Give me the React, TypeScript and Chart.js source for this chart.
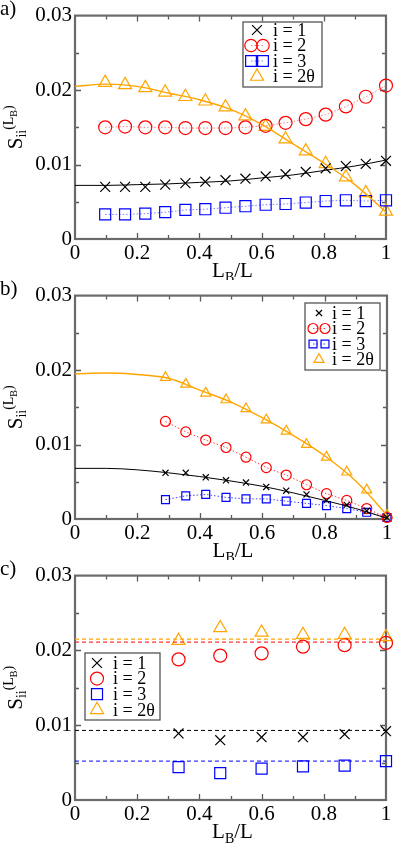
import React, { useEffect, useRef } from 'react';
import { Chart, registerables } from 'chart.js';
import { drawPoint } from 'chart.js/helpers';

Chart.register(...registerables);

const FONT = '"Liberation Serif", "Times New Roman", serif';
const ORANGE = '#ffa500';
const RED = '#ff0000';
const BLUE = '#0000ff';
const BLACK = '#000000';

// ---- axis ticks ----
const xMajorTicks = [0, 0.2, 0.4, 0.6, 0.8, 1];
const xTickLabels = ['0', '0.2', '0.4', '0.6', '0.8', '1'];
const xMinorTicks = [0.1, 0.3, 0.5, 0.7, 0.9];
const yMajorTicks = [0, 0.01, 0.02, 0.03];
const yTickLabels = ['0', '0.01', '0.02', '0.03'];
const yMinorTicks = [0.005, 0.015, 0.025];

const legendLabels = ['i = 1', 'i = 2', 'i = 3', 'i = 2θ'];
const panelLetters = ['a)', 'b)', 'c)'];

// ---- panel a ----
const xA = [0.097, 0.161, 0.226, 0.29, 0.355, 0.419, 0.484, 0.548, 0.613, 0.677, 0.742, 0.806, 0.871, 0.935, 1.0];
const a1 = [0.007, 0.007, 0.007, 0.0073, 0.0075, 0.0077, 0.0079, 0.0081, 0.0084, 0.0087, 0.009, 0.0095, 0.0098, 0.0101, 0.0105];
const a2 = [0.015, 0.0151, 0.015, 0.015, 0.0149, 0.0149, 0.0149, 0.015, 0.0152, 0.0156, 0.0161, 0.0167, 0.0178, 0.0191, 0.0206];
const a3 = [0.0033, 0.0033, 0.0034, 0.0036, 0.0039, 0.004, 0.0042, 0.0044, 0.0046, 0.0047, 0.0049, 0.0051, 0.0052, 0.0051, 0.0052];
const a2t = [0.021, 0.0207, 0.0203, 0.0197, 0.0191, 0.0185, 0.0177, 0.0165, 0.0151, 0.0134, 0.0118, 0.0101, 0.0083, 0.0062, 0.0037];
const fitX = [0, 0.1, 0.2, 0.3, 0.4, 0.5, 0.6, 0.7, 0.8, 0.9, 1.0];
const aFit1 = [0.0072, 0.0072, 0.0073, 0.0074, 0.0076, 0.0078, 0.0082, 0.0086, 0.0092, 0.0098, 0.0106];
const aFit2t = [0.0205, 0.0208, 0.0205, 0.0196, 0.0187, 0.0174, 0.0154, 0.0128, 0.0102, 0.0073, 0.0036];

// ---- panel b ----
const xB = [0.29, 0.355, 0.419, 0.484, 0.548, 0.613, 0.677, 0.742, 0.806, 0.871, 0.935, 1.0];
const b1 = [0.0062, 0.0062, 0.0056, 0.0052, 0.0049, 0.0043, 0.0038, 0.0033, 0.0025, 0.0019, 0.0011, 0.0002];
const b2 = [0.0131, 0.0117, 0.0106, 0.0096, 0.0083, 0.0069, 0.0059, 0.0046, 0.0034, 0.0025, 0.0014, 0.0002];
const b3 = [0.0026, 0.0031, 0.0033, 0.0029, 0.0027, 0.0027, 0.0024, 0.0021, 0.0018, 0.0014, 0.0009, 0.0002];
const b2t = [0.019, 0.0181, 0.0169, 0.016, 0.0148, 0.0133, 0.0118, 0.01, 0.0083, 0.0063, 0.0039, 0.0005];
const bFit1 = [0.0068, 0.0068, 0.0066, 0.0062, 0.0057, 0.0051, 0.0044, 0.0035, 0.0025, 0.0014, 0.0001];
const bFit2t = [0.0195, 0.0196, 0.0194, 0.0189, 0.0173, 0.0157, 0.0136, 0.0112, 0.0085, 0.0051, 0.0005];

// ---- panel c ----
const xC = [0.333, 0.467, 0.6, 0.733, 0.867, 1.0];
const c1 = [0.0089, 0.008, 0.0084, 0.0084, 0.0088, 0.0092];
const c2 = [0.0188, 0.0193, 0.0196, 0.0205, 0.0207, 0.021];
const c3 = [0.0044, 0.0036, 0.0042, 0.0045, 0.0046, 0.0052];
const c2t = [0.0213, 0.023, 0.0224, 0.0221, 0.0221, 0.0218];
const hLineX = [0, 1];
const cMean1 = 0.0093;
const cMean2 = 0.0211;
const cMean3 = 0.0052;
const cMean2t = 0.0215;

const pts = (xs: number[], ys: number[]) => xs.map((x, i) => ({ x, y: ys[i] }));
const hpts = (y: number) => hLineX.map((x) => ({ x, y }));

type Sym = { style: string; color: string; r: number; twin?: boolean; line?: string };

function markerSet(
  data: number[],
  xs: number[],
  sym: Sym,
  showLine: boolean,
) {
  return {
    data: pts(xs, data),
    showLine,
    borderColor: sym.line || sym.color,
    borderWidth: 1,
    borderDash: [1.5, 2],
    pointStyle: sym.style,
    pointRadius: sym.r,
    pointBorderColor: sym.color,
    pointBackgroundColor: 'rgba(0,0,0,0)',
    pointBorderWidth: 1.2,
    clip: false as any,
  };
}

function curveSet(data: { x: number; y: number }[], color: string, width: number, dash: number[] = []) {
  return {
    data,
    showLine: true,
    borderColor: color,
    borderWidth: width,
    borderDash: dash,
    pointRadius: 0,
    cubicInterpolationMode: 'monotone' as const,
    clip: false as any,
  };
}

function drawSym(ctx: CanvasRenderingContext2D, sym: Sym, x: number, y: number) {
  ctx.save();
  ctx.strokeStyle = sym.color;
  ctx.fillStyle = 'rgba(0,0,0,0)';
  ctx.lineWidth = 1.2;
  drawPoint(ctx, { pointStyle: sym.style as any, radius: sym.r, rotation: 0, borderWidth: 1.2 } as any, x, y);
  ctx.restore();
}

const framePlugin = {
  id: 'frame',
  beforeDatasetsDraw(chart: any) {
    const { ctx, chartArea: ca, scales } = chart;
    const xs = scales.x;
    const ys = scales.y;
    ctx.save();
    ctx.strokeStyle = '#5a5a5a';
    ctx.lineWidth = 1.3;
    ctx.beginPath();
    const xt = (vals: number[], len: number) => {
      vals.forEach((v) => {
        if (v <= 0 || v >= 1) return;
        const px = Math.round(xs.getPixelForValue(v)) + 0.5;
        ctx.moveTo(px, ca.bottom);
        ctx.lineTo(px, ca.bottom - len);
        ctx.moveTo(px, ca.top);
        ctx.lineTo(px, ca.top + len);
      });
    };
    const yt = (vals: number[], len: number) => {
      vals.forEach((v) => {
        if (v <= 0 || v >= 0.03) return;
        const py = Math.round(ys.getPixelForValue(v)) + 0.5;
        ctx.moveTo(ca.left, py);
        ctx.lineTo(ca.left + len, py);
        ctx.moveTo(ca.right, py);
        ctx.lineTo(ca.right - len, py);
      });
    };
    xt(xMajorTicks, 6);
    xt(xMinorTicks, 4);
    yt(yMajorTicks, 6);
    yt(yMinorTicks, 4);
    ctx.stroke();
    ctx.lineWidth = 2.2;
    ctx.strokeStyle = '#6a6a6a';
    ctx.strokeRect(ca.left, ca.top, ca.right - ca.left, ca.bottom - ca.top);
    ctx.restore();
  },
  afterDraw(chart: any, _args: any, opts: any) {
    const { ctx, chartArea: ca } = chart;
    ctx.save();
    // panel letter
    ctx.fillStyle = '#000';
    ctx.font = `21px ${FONT}`;
    ctx.textBaseline = 'alphabetic';
    ctx.textAlign = 'left';
    ctx.fillText(opts.letter, 0, 15);

    // x-axis title L_B/L
    const cx = (ca.left + ca.right) / 2;
    const base = opts.xTitleY;
    ctx.font = `21px ${FONT}`;
    const wL = ctx.measureText('L').width;
    const wSl = ctx.measureText('/L').width;
    ctx.font = `14px ${FONT}`;
    const wB = ctx.measureText('B').width;
    let x0 = cx - (wL + wB + wSl) / 2 + 2;
    ctx.font = `21px ${FONT}`;
    ctx.fillText('L', x0, base);
    x0 += wL;
    ctx.font = `14px ${FONT}`;
    ctx.fillText('B', x0, base + 5);
    x0 += wB;
    ctx.font = `21px ${FONT}`;
    ctx.fillText('/L', x0, base);

    // y-axis title S_ii^(L_B)
    const cy = (ca.top + ca.bottom) / 2;
    ctx.save();
    ctx.translate(22, cy);
    ctx.rotate(-Math.PI / 2);
    ctx.font = `21px ${FONT}`;
    const wS = ctx.measureText('S').width;
    ctx.font = `14px ${FONT}`;
    const wii = ctx.measureText('ii').width;
    const wPL = ctx.measureText('(L').width;
    const wPR = ctx.measureText(')').width;
    ctx.font = `10px ${FONT}`;
    const wB2 = ctx.measureText('B').width;
    const total = wS + wii + wPL + wB2 + wPR;
    let t = -total / 2;
    ctx.font = `21px ${FONT}`;
    ctx.fillText('S', t, 0);
    t += wS;
    ctx.font = `14px ${FONT}`;
    ctx.fillText('ii', t, 4);
    t += wii;
    ctx.fillText('(L', t, -9);
    t += wPL;
    ctx.font = `10px ${FONT}`;
    ctx.fillText('B', t, -5);
    t += wB2;
    ctx.font = `14px ${FONT}`;
    ctx.fillText(')', t, -9);
    ctx.restore();

    // legend
    const lg = opts.legend;
    ctx.fillStyle = '#fff';
    ctx.fillRect(lg.x, lg.y, lg.w, lg.h);
    ctx.strokeStyle = '#555';
    ctx.lineWidth = 1.3;
    ctx.strokeRect(lg.x, lg.y, lg.w, lg.h);
    lg.items.forEach((sym: Sym, i: number) => {
      const ry = lg.rowY + i * lg.rowH;
      if (sym.twin) {
        const xa = lg.mx - lg.dx;
        const xb = lg.mx + lg.dx;
        ctx.save();
        ctx.strokeStyle = sym.line || sym.color;
        ctx.lineWidth = 1;
        ctx.setLineDash([1.5, 2]);
        ctx.beginPath();
        ctx.moveTo(xa, ry);
        ctx.lineTo(xb, ry);
        ctx.stroke();
        ctx.restore();
        drawSym(ctx, sym, xa, ry);
        drawSym(ctx, sym, xb, ry);
      } else {
        drawSym(ctx, sym, lg.mx, ry);
      }
      ctx.fillStyle = '#000';
      ctx.font = `18px ${FONT}`;
      ctx.textBaseline = 'middle';
      ctx.textAlign = 'left';
      ctx.fillText(legendLabels[i], lg.tx, ry + 1);
    });
    ctx.restore();
  },
};

function makeConfig(datasets: any[], frameOpts: any, xAxisH: number) {
  return {
    type: 'scatter',
    data: { datasets },
    plugins: [framePlugin],
    options: {
      animation: false,
      responsive: false,
      events: [],
      layout: { padding: { top: 15, right: 8, left: 0, bottom: 0 } },
      plugins: {
        legend: { display: false },
        tooltip: { enabled: false },
        frame: frameOpts,
      },
      scales: {
        x: {
          type: 'linear',
          min: 0,
          max: 1,
          border: { display: false },
          grid: { display: false, drawTicks: false },
          afterBuildTicks: (s: any) => {
            s.ticks = xMajorTicks.map((v) => ({ value: v }));
          },
          afterFit: (s: any) => {
            s.height = xAxisH;
          },
          ticks: {
            padding: 2,
            color: '#000',
            font: { family: FONT, size: 21 },
            maxRotation: 0,
            autoSkip: false,
            callback: (v: number) => {
              const i = xMajorTicks.findIndex((t) => Math.abs(t - v) < 1e-9);
              return i >= 0 ? xTickLabels[i] : '';
            },
          },
        },
        y: {
          type: 'linear',
          min: 0,
          max: 0.03,
          border: { display: false },
          grid: { display: false, drawTicks: false },
          afterBuildTicks: (s: any) => {
            s.ticks = yMajorTicks.map((v) => ({ value: v }));
          },
          afterFit: (s: any) => {
            s.width = 75;
          },
          ticks: {
            padding: 3,
            color: '#000',
            font: { family: FONT, size: 21 },
            autoSkip: false,
            callback: (v: number) => {
              const i = yMajorTicks.findIndex((t) => Math.abs(t - v) < 1e-9);
              return i >= 0 ? yTickLabels[i] : '';
            },
          },
        },
      },
    },
  };
}

// symbol sets
const symA: Sym[] = [
  { style: 'crossRot', color: BLACK, r: 7 },
  { style: 'circle', color: RED, r: 6.5, twin: true, line: 'rgba(255,0,0,0.5)' },
  { style: 'rect', color: BLUE, r: 7.8, twin: true, line: 'rgba(0,0,255,0.5)' },
  { style: 'triangle', color: ORANGE, r: 7.5 },
];
const symALegend: Sym[] = [
  { style: 'crossRot', color: BLACK, r: 7 },
  { style: 'circle', color: RED, r: 6.2, twin: true, line: 'rgba(255,0,0,0.5)' },
  { style: 'rect', color: BLUE, r: 7.6, twin: true, line: 'rgba(0,0,255,0.5)' },
  { style: 'triangle', color: ORANGE, r: 7.5 },
];
const symB: Sym[] = [
  { style: 'crossRot', color: BLACK, r: 4.3 },
  { style: 'circle', color: RED, r: 5, twin: true, line: 'rgba(255,0,0,0.75)' },
  { style: 'rect', color: BLUE, r: 5.6, twin: true, line: 'rgba(0,0,255,0.75)' },
  { style: 'triangle', color: ORANGE, r: 5.8 },
];
const symC: Sym[] = [
  { style: 'crossRot', color: BLACK, r: 7 },
  { style: 'circle', color: RED, r: 6.5 },
  { style: 'rect', color: BLUE, r: 7.8 },
  { style: 'triangle', color: ORANGE, r: 7.5 },
];

function configA() {
  const ds = [
    curveSet(pts(fitX, aFit2t), ORANGE, 1.4),
    curveSet(pts(fitX, aFit1), BLACK, 1),
    markerSet(a1, xA, symA[0], false),
    markerSet(a2, xA, symA[1], true),
    markerSet(a3, xA, symA[2], true),
    markerSet(a2t, xA, symA[3], false),
  ];
  return makeConfig(
    ds,
    {
      letter: panelLetters[0],
      xTitleY: 277,
      legend: { x: 243, y: 22, w: 79, h: 65, rowY: 30, rowH: 15.5, mx: 257, dx: 6, tx: 273, items: symALegend },
    },
    41,
  );
}

function configB() {
  const ds = [
    curveSet(pts(fitX, bFit2t), ORANGE, 1.4),
    curveSet(pts(fitX, bFit1), BLACK, 1),
    markerSet(b1, xB, symB[0], false),
    markerSet(b2, xB, symB[1], true),
    markerSet(b3, xB, symB[2], true),
    markerSet(b2t, xB, symB[3], false),
  ];
  return makeConfig(
    ds,
    {
      letter: panelLetters[1],
      xTitleY: 277,
      legend: { x: 305, y: 23, w: 75, h: 67, rowY: 33, rowH: 15.5, mx: 319, dx: 6, tx: 332, items: symB },
    },
    41,
  );
}

function configC() {
  const ds = [
    curveSet(hpts(cMean2t), ORANGE, 1.2, [4, 3]),
    curveSet(hpts(cMean2), 'rgba(255,0,0,0.8)', 1.2, [4, 3]),
    curveSet(hpts(cMean1), BLACK, 1, [4, 3]),
    curveSet(hpts(cMean3), BLUE, 1, [4, 3]),
    markerSet(c1, xC, symC[0], false),
    markerSet(c2, xC, symC[1], false),
    markerSet(c3, xC, symC[2], false),
    markerSet(c2t, xC, symC[3], false),
  ];
  return makeConfig(
    ds,
    {
      letter: panelLetters[2],
      xTitleY: 278,
      legend: { x: 85, y: 93, w: 75, h: 67, rowY: 103, rowH: 15.6, mx: 97, dx: 6, tx: 113, items: symC },
    },
    45,
  );
}

function Panel({ make, height }: { make: () => any; height: number }) {
  const ref = useRef<HTMLCanvasElement>(null);
  useEffect(() => {
    const chart = new Chart(ref.current as HTMLCanvasElement, make());
    return () => chart.destroy();
  }, [make]);
  return (
    <div style={{ width: 395, height }}>
      <canvas ref={ref} width={395} height={height} style={{ display: 'block', width: 395, height }} />
    </div>
  );
}

export default function App() {
  return (
    <div style={{ position: 'absolute', left: 0, top: 0, width: 395, height: 845, background: '#fff' }}>
      <Panel make={configA} height={280} />
      <Panel make={configB} height={280} />
      <Panel make={configC} height={285} />
    </div>
  );
}
